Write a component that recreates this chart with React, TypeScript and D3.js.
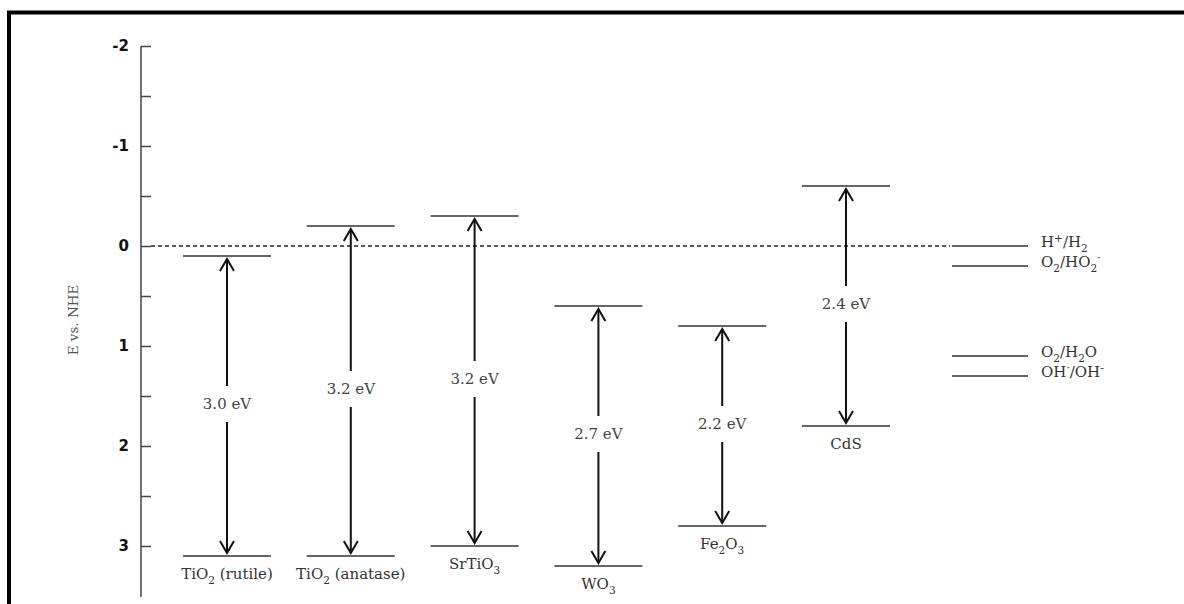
import React, { useEffect, useRef } from "react";
import * as d3 from "d3";

// band edges in eV vs NHE (negative = higher on chart)
const materials = ["TiO_{2} (rutile)", "TiO_{2} (anatase)", "SrTiO_{3}", "WO_{3}", "Fe_{2}O_{3}", "CdS"];
const conductionBand = [0.1, -0.2, -0.3, 0.6, 0.8, -0.6];
const valenceBand = [3.1, 3.1, 3.0, 3.2, 2.8, 1.8];
const gapLabels = ["3.0 eV", "3.2 eV", "3.2 eV", "2.7 eV", "2.2 eV", "2.4 eV"];

const redoxCouples = ["H^{+}/H_{2}", "O_{2}/HO_{2}^{·}", "O_{2}/H_{2}O", "OH^{·}/OH^{-}"];
const redoxPotentials = [0, 0.2, 1.1, 1.3];

const majorTicks = [-2, -1, 0, 1, 2, 3];
const minorTicks = [-1.5, -0.5, 0.5, 1.5, 2.5];

const W = 1184;
const H = 604;
const axisX = 141;
const serif = "'DejaVu Serif', 'Liberation Serif', serif";

// split "TiO_{2}" style strings into normal / sub / sup pieces
function parts(s: string) {
  const out: { t: string; k: string }[] = [];
  const re = /([_^])\{([^}]*)\}/g;
  let last = 0;
  let m;
  while ((m = re.exec(s)) !== null) {
    if (m.index > last) out.push({ t: s.slice(last, m.index), k: "n" });
    out.push({ t: m[2], k: m[1] === "_" ? "sub" : "sup" });
    last = re.lastIndex;
  }
  if (last < s.length) out.push({ t: s.slice(last), k: "n" });
  return out;
}

function Rich({ s, size }: { s: string; size: number }) {
  const ps = parts(s);
  let shift = 0;
  return (
    <>
      {ps.map((p, i) => {
        const target = p.k === "sub" ? size * 0.3 : p.k === "sup" ? -size * 0.35 : 0;
        const dy = target - shift;
        shift = target;
        return (
          <tspan key={i} dy={dy} fontSize={p.k === "n" ? size : size * 0.7}>
            {p.t}
          </tspan>
        );
      })}
    </>
  );
}

const App = () => {
  const axisRef = useRef<SVGGElement>(null);

  const y = d3.scaleLinear().domain([-2, 3]).range([46, 546]);
  const x = d3.scalePoint().domain(materials).range([227, 846]);

  useEffect(() => {
    const g = d3.select(axisRef.current);
    g.selectAll("*").remove();
    const major = d3
      .axisLeft(y)
      .tickValues(majorTicks)
      .tickSizeInner(-10)
      .tickSizeOuter(0)
      .tickPadding(12)
      .tickFormat((d) => String(d));
    const minor = d3.axisLeft(y).tickValues(minorTicks).tickSizeInner(-10).tickSizeOuter(0).tickFormat(() => "");
    g.append("g").call(major);
    g.append("g").call(minor);
    g.selectAll(".domain").remove();
    g.selectAll("line").attr("stroke", "#444").attr("stroke-width", 1.5);
    g.selectAll("text")
      .attr("font-family", "'DejaVu Sans', sans-serif")
      .attr("font-weight", "bold")
      .attr("font-size", 15)
      .attr("fill", "#111");
  }, []);

  const lineHalf = 44;
  const head = (cx: number, tipY: number, dir: number) =>
    `M${cx - 7},${tipY - dir * 12} L${cx},${tipY} L${cx + 7},${tipY - dir * 12}`;

  return (
    <svg width={W} height={H} style={{ position: "absolute", left: 0, top: 0, background: "#fff" }}>
      <rect x={9} y={12.5} width={1300} height={800} fill="none" stroke="#000" strokeWidth={4} />

      <line x1={axisX} x2={axisX} y1={y(-2)} y2={597} stroke="#444" strokeWidth={1.5} />
      <g ref={axisRef} transform={`translate(${axisX},0)`} />

      <text
        transform={`translate(78,${y(0.74)}) rotate(-90)`}
        textAnchor="middle"
        fontFamily={serif}
        fontSize={13.5}
        fill="#555"
      >
        E vs. NHE
      </text>

      <line x1={axisX + 10} x2={950} y1={y(0)} y2={y(0)} stroke="#222" strokeWidth={1.3} strokeDasharray="4,3" />

      {materials.map((m, i) => {
        const cx = x(m) as number;
        const top = y(conductionBand[i]);
        const bot = y(valenceBand[i]);
        const mid = (top + bot) / 2;
        return (
          <g key={m}>
            <line x1={cx - lineHalf} x2={cx + lineHalf} y1={top} y2={top} stroke="#333" strokeWidth={1.5} />
            <line x1={cx - lineHalf} x2={cx + lineHalf} y1={bot} y2={bot} stroke="#333" strokeWidth={1.5} />
            <line x1={cx} x2={cx} y1={top + 3} y2={mid - 20} stroke="#111" strokeWidth={2} />
            <line x1={cx} x2={cx} y1={mid + 16} y2={bot - 3} stroke="#111" strokeWidth={2} />
            <path d={head(cx, top + 3, -1)} fill="none" stroke="#111" strokeWidth={2} />
            <path d={head(cx, bot - 3, 1)} fill="none" stroke="#111" strokeWidth={2} />
            <text x={cx} y={mid + 3} textAnchor="middle" fontFamily={serif} fontSize={15} fill="#444">
              {gapLabels[i]}
            </text>
            <text x={cx} y={bot + 23} textAnchor="middle" fontFamily={serif} fontSize={15} fill="#333">
              <Rich s={m} size={15} />
            </text>
          </g>
        );
      })}

      {redoxCouples.map((r, i) => (
        <g key={r}>
          <line x1={952} x2={1028} y1={y(redoxPotentials[i])} y2={y(redoxPotentials[i])} stroke="#333" strokeWidth={1.5} />
          <text x={1041} y={y(redoxPotentials[i]) + 1} fontFamily={serif} fontSize={15} fill="#333">
            <Rich s={r} size={15} />
          </text>
        </g>
      ))}
    </svg>
  );
};

export default App;
